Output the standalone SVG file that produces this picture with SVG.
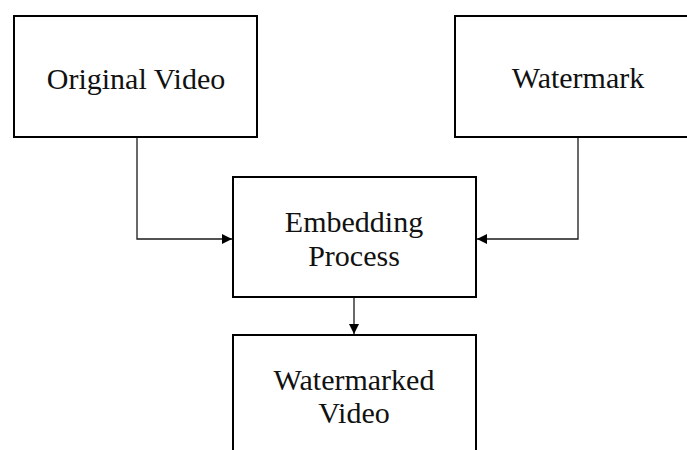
<svg xmlns="http://www.w3.org/2000/svg" width="687" height="450" viewBox="0 0 687 450">
<style>
.box{fill:#fff;stroke:#000;stroke-width:2}
.lbl{font-family:"Liberation Serif","Times New Roman",serif;font-size:30px;fill:#111;text-anchor:middle}
.conn{fill:none;stroke:#1a1a1a;stroke-width:1.3}
</style>
<defs>
<marker id="arr" viewBox="0 0 10 10" refX="10" refY="5" markerWidth="11" markerHeight="10" markerUnits="userSpaceOnUse" orient="auto">
<path d="M0,0 L10,5 L0,10 Z" fill="#000"/>
</marker>
</defs>
<rect width="687" height="450" fill="#fff"/>
<g id="connectors">
<path class="conn" d="M137,137 V239 H232" marker-end="url(#arr)"/>
<path class="conn" d="M578,137 V239 H477" marker-end="url(#arr)"/>
<path class="conn" d="M354,297 V334" marker-end="url(#arr)"/>
</g>
<g id="original-video">
<rect class="box" x="14" y="16" width="243" height="121"/>
<text class="lbl" x="136" y="89">Original Video</text>
</g>
<g id="watermark">
<rect class="box" x="455" y="16" width="243" height="121"/>
<text class="lbl" x="578" y="88">Watermark</text>
</g>
<g id="embedding-process">
<rect class="box" x="233" y="177" width="243" height="120"/>
<text class="lbl" x="354" y="232">Embedding</text>
<text class="lbl" x="354" y="266">Process</text>
</g>
<g id="watermarked-video">
<rect class="box" x="233" y="335" width="243" height="130"/>
<text class="lbl" x="354" y="390">Watermarked</text>
<text class="lbl" x="354" y="423">Video</text>
</g>
</svg>
